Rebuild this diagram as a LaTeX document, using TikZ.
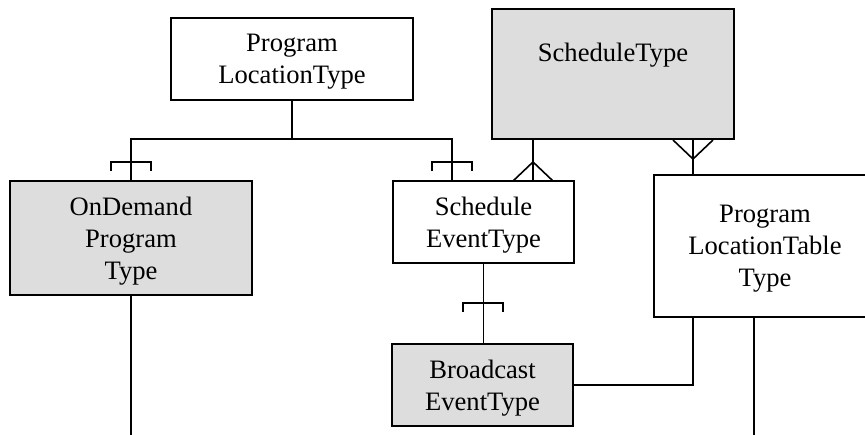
\documentclass[tikz,border=0pt]{standalone}
\usepackage{fontspec}
\setmainfont{Liberation Serif}
\usepackage{tikz}
\usepackage{xcolor}
\definecolor{boxgrey}{HTML}{DDDDDD}

\tikzset{
  entity/.style={draw, thick, align=center, inner sep=0pt, text depth=-3pt, font=\fontsize{13.3}{16}\selectfont},
  shaded/.style={entity, fill=boxgrey},
  onebar/.pic={\draw[thick] (-20,9) -- (-20,0) -- (20,0) -- (20,9);},
  crowfoot/.pic={\draw[thick] (-20,19) -- (0,0) -- (20,19);}
}

\begin{document}
\begin{tikzpicture}[x=0.5pt,y=-0.5pt,thick]
\useasboundingbox (0,0) rectangle (865,434);
\clip (0,0) rectangle (865,434);
%%%ENTITIES
\node[entity, minimum width=121pt, minimum height=41pt] (plt) at (292,59) {Program\\LocationType};
\node[shaded, minimum width=121pt, minimum height=57pt] (odp) at (131,238) {OnDemand\\Program\\Type};
\node[entity, minimum width=90.5pt, minimum height=41pt] (set) at (483.5,222) {Schedule\\EventType};
\node[shaded, minimum width=121pt, text height=26pt, text depth=39pt] (st) at (613,74) {ScheduleType};
\node[entity, minimum width=111pt, minimum height=71pt] (pltt) at (765,246) {Program\\LocationTable\\Type};
\node[shaded, minimum width=90.5pt, minimum height=41pt] (bet) at (482.5,385) {Broadcast\\EventType};
\coordinate (odpend) at (131,440);
\coordinate (tblend) at (754,440);
%%%RELATIONS
\draw (plt.south) -- (292,139) coordinate (fork);
\draw (fork) -| (odp.north);
\draw (fork) -| ([xshift=-15.75pt]set.north);
\draw ([xshift=-40pt]st.south) -- ([xshift=-40pt]st.south |- set.north);
\draw ([xshift=40pt]st.south) -- ([xshift=40pt]st.south |- pltt.north);
\draw (set.south) -- (set.south |- bet.north);
\draw ([xshift=-36pt]pltt.south) |- (bet.east);
\draw ([xshift=-5.5pt]pltt.south) -- (tblend);
\draw (odp.south) -- (odpend);
%%%CARDINALITY MARKS
\pic at (131,162) {onebar};
\pic at (452,162) {onebar};
\pic at (483,303) {onebar};
\pic at (533,162) {crowfoot};
\pic[rotate=180] at (693,159) {crowfoot};
\end{tikzpicture}
\end{document}
